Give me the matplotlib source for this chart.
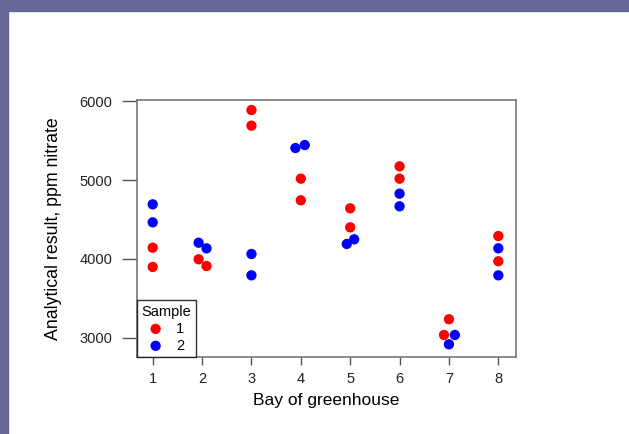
import numpy as np
import matplotlib
matplotlib.use("Agg")
import matplotlib.pyplot as plt
from matplotlib.patches import Rectangle

plt.rcParams['font.family'] = ['Liberation Sans', 'DejaVu Sans']

# readings per sample (x = bay, slightly jittered as in the original)
bay_s1 = [1, 1, 1.93, 2.09, 3, 3, 4, 4, 5, 5, 6, 6, 7, 6.90, 8, 8]
nitrate_s1 = [4143, 3899, 3996, 3911, 5886, 5688, 5017, 4743,
              4642, 4401, 5173, 5017, 3237, 3038, 4291, 3971]
bay_s2 = [1, 1, 1.93, 2.09, 3, 3, 3.89, 4.08, 4.93, 5.08, 6, 6, 7.12, 7, 8, 8]
nitrate_s2 = [4692, 4464, 4206, 4135, 4063, 3793, 5405, 5443,
              4190, 4249, 4827, 4667, 3038, 2920, 4135, 3793]

bays = [1, 2, 3, 4, 5, 6, 7, 8]
yticks = [3000, 4000, 5000, 6000]

fig = plt.figure(figsize=(6.29, 4.34), dpi=100)
fig.patch.set_facecolor("white")
# slide frame
purple = "#666699"
fig.patches.append(Rectangle((0, 1 - 11 / 434), 1, 11 / 434, transform=fig.transFigure,
                             color=purple, zorder=0))
fig.patches.append(Rectangle((0, 0), 8 / 629, 1, transform=fig.transFigure,
                             color=purple, zorder=0))

ax = fig.add_axes([137 / 629, 77 / 434, 379 / 629, 257 / 434])
ax.scatter(bay_s1, nitrate_s1, s=55, color="#ff0000", edgecolors="none", label="1", zorder=3)
ax.scatter(bay_s2, nitrate_s2, s=55, color="#0000ff", edgecolors="none", label="2", zorder=3)

ax.set_xlim(0.682, 8.358)
ax.set_ylim(2759, 6013)
ax.set_xticks(bays)
ax.set_yticks(yticks)
ax.tick_params(axis="x", length=6, width=1, color="#555555", labelsize=10.5,
               labelcolor="#222222", pad=5)
ax.tick_params(axis="y", length=11, width=1, color="#555555", labelsize=10.5,
               labelcolor="#222222", pad=7)
for sp in ax.spines.values():
    sp.set_color("#777777")
    sp.set_linewidth(1.2)

ax.set_xlabel("Bay of greenhouse", fontsize=12.5, labelpad=5)
ax.set_ylabel("Analytical result, ppm nitrate", fontsize=12.8, labelpad=12)

leg = ax.legend(title="Sample", loc="lower left", bbox_to_anchor=(0, 0),
                borderaxespad=0, fancybox=False, frameon=True, fontsize=10.5,
                title_fontsize=10.5, handletextpad=0.9, labelspacing=0.2,
                borderpad=0.3, handlelength=1.0, markerscale=1.0)
leg.get_frame().set_edgecolor("black")
leg.get_frame().set_linewidth(1.0)
leg.set_zorder(5)

fig.savefig("out.png", dpi=100)
